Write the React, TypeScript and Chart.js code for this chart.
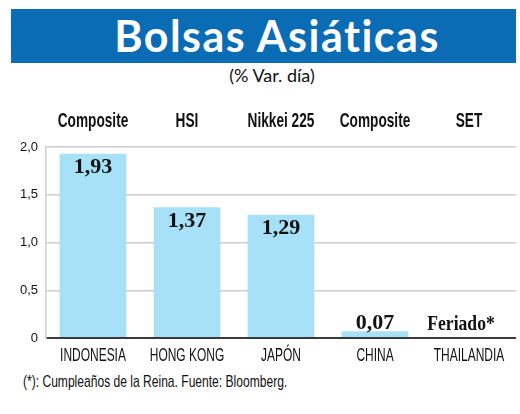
import React, { useEffect, useLayoutEffect, useRef } from "react";
import { Chart, registerables } from "chart.js";

Chart.register(...registerables);

const countries = ["INDONESIA", "HONG KONG", "JAPÓN", "CHINA", "THAILANDIA"];
const indices = ["Composite", "HSI", "Nikkei 225", "Composite", "SET"];
const values: (number | null)[] = [1.93, 1.37, 1.29, 0.07, null];
const valueLabels = ["1,93", "1,37", "1,29", "0,07", "Feriado*"];
const yMin = 0;
const yMax = 2;
const yStep = 0.5;

const BAR_COLOR = "#a6e1f7";
const BLUE = "#0b6cb6";
const SANS = '"Liberation Sans", Arial, sans-serif';
const LABEL_FONT = '"Liberation Serif", "DejaVu Serif", serif';

function drawCondensed(ctx: any, text: string, x: number, y: number, sx: number) {
  ctx.save();
  ctx.translate(x, y);
  ctx.scale(sx, 1);
  ctx.fillText(text, 0, 0);
  ctx.restore();
}

const labelPlugin = {
  id: "customLabels",
  afterDraw(chart: any) {
    const ctx = chart.ctx;
    const meta = chart.getDatasetMeta(0);
    const yScale = chart.scales.y;
    const xScale = chart.scales.x;
    const x2Scale = chart.scales.x2;
    ctx.save();
    ctx.fillStyle = "#111";
    ctx.textAlign = "center";
    ctx.textBaseline = "alphabetic";

    // top: index names
    ctx.font = `bold 21px ${SANS}`;
    indices.forEach((lab, i) => {
      drawCondensed(ctx, lab, x2Scale.getPixelForValue(i), x2Scale.bottom - 20, 0.65);
    });

    // bottom: country names
    ctx.font = `19px ${SANS}`;
    countries.forEach((lab, i) => {
      drawCondensed(ctx, lab, xScale.getPixelForValue(i), xScale.top + 23, 0.63);
    });

    // value labels
    ctx.font = `bold 22px ${LABEL_FONT}`;
    ctx.textBaseline = "middle";
    values.forEach((v, i) => {
      const x = xScale.getPixelForValue(i);
      if (v === null) {
        drawCondensed(ctx, valueLabels[i], x - 8, yScale.getPixelForValue(0) - 14, 0.8);
      } else {
        const el = meta.data[i];
        const y = v > 0.5 ? el.y + 14 : el.y - 8;
        ctx.fillText(valueLabels[i], x, y);
      }
    });
    ctx.restore();
  },
};

function BarChart() {
  const ref = useRef<HTMLCanvasElement | null>(null);
  useEffect(() => {
    if (!ref.current) return;
    const chart = new Chart(ref.current, {
      type: "bar",
      data: {
        labels: countries,
        datasets: [
          {
            data: values as any,
            backgroundColor: BAR_COLOR,
            borderWidth: 0,
            categoryPercentage: 1,
            barPercentage: 0.71,
          },
        ],
      },
      options: {
        responsive: false,
        animation: false,
        devicePixelRatio: 1,
        layout: { padding: { left: 0, right: 4, top: 0, bottom: 0 } },
        plugins: {
          legend: { display: false },
          tooltip: { enabled: false },
          title: { display: false },
        },
        scales: {
          x: {
            type: "category",
            position: "bottom",
            grid: { display: false, drawTicks: false },
            border: { display: false },
            ticks: { display: false },
            afterFit(axis: any) {
              axis.height = 34;
            },
          },
          x2: {
            type: "category",
            position: "top",
            labels: indices,
            grid: { display: false, drawTicks: false },
            border: { display: false },
            ticks: { display: false },
            afterFit(axis: any) {
              axis.height = 47;
            },
          },
          y: {
            min: yMin,
            max: yMax,
            grid: {
              drawTicks: false,
              color: (c: any) => (c.tick && c.tick.value === 0 ? "#3a3a3a" : "#cdcdcd"),
              lineWidth: (c: any) => (c.tick && c.tick.value === 0 ? 2 : 1.5),
            },
            border: { display: true, color: "#cdcdcd", width: 1.5 },
            ticks: {
              stepSize: yStep,
              color: "#111",
              padding: 8,
              font: { family: SANS, size: 13 },
              callback: (v: any) => (Number(v) === 0 ? "0" : Number(v).toFixed(1).replace(".", ",")),
            },
            afterFit(axis: any) {
              axis.width = 46;
            },
          },
        },
      } as any,
      plugins: [labelPlugin],
    });
    return () => chart.destroy();
  }, []);
  return (
    <canvas
      ref={ref}
      width={520}
      height={272}
      style={{ position: "absolute", left: 0, top: 100, width: 520, height: 272 }}
    />
  );
}

function Footnote() {
  const ref = useRef<HTMLSpanElement | null>(null);
  useLayoutEffect(() => {
    const el = ref.current;
    if (!el) return;
    const w = el.offsetWidth;
    if (w > 0) el.style.transform = `scaleX(${264 / w})`;
  }, []);
  return (
    <span
      ref={ref}
      style={{
        position: "absolute",
        left: 23,
        top: 373,
        display: "inline-block",
        lineHeight: "17px",
        fontFamily: SANS,
        fontSize: 17,
        color: "#111",
        whiteSpace: "nowrap",
        transformOrigin: "0 0",
      }}
    >
      (*): Cumpleaños de la Reina. Fuente: Bloomberg.
    </span>
  );
}

export default function App() {
  return (
    <div
      style={{
        position: "absolute",
        left: 0,
        top: 0,
        width: 520,
        height: 414,
        background: "#fff",
        overflow: "hidden",
      }}
    >
      <div
        style={{
          position: "absolute",
          left: 11,
          top: 9,
          width: 505,
          height: 54,
          background: BLUE,
          color: "#fff",
          fontFamily: "Lato, 'Open Sans', sans-serif",
          fontWeight: 700,
          fontSize: 43,
          letterSpacing: "1.5px",
          lineHeight: "54px",
          textAlign: "center",
          boxSizing: "border-box",
          paddingLeft: 27,
          whiteSpace: "nowrap",
        }}
      >
        Bolsas Asiáticas
      </div>
      <div
        style={{
          position: "absolute",
          left: 0,
          width: 544,
          top: 64,
          height: 22,
          lineHeight: "22px",
          textAlign: "center",
          fontFamily: "Lato, 'Open Sans', sans-serif",
          fontSize: 18,
          color: "#111",
        }}
      >
        (% Var. día)
      </div>
      <BarChart />
      <Footnote />
    </div>
  );
}
